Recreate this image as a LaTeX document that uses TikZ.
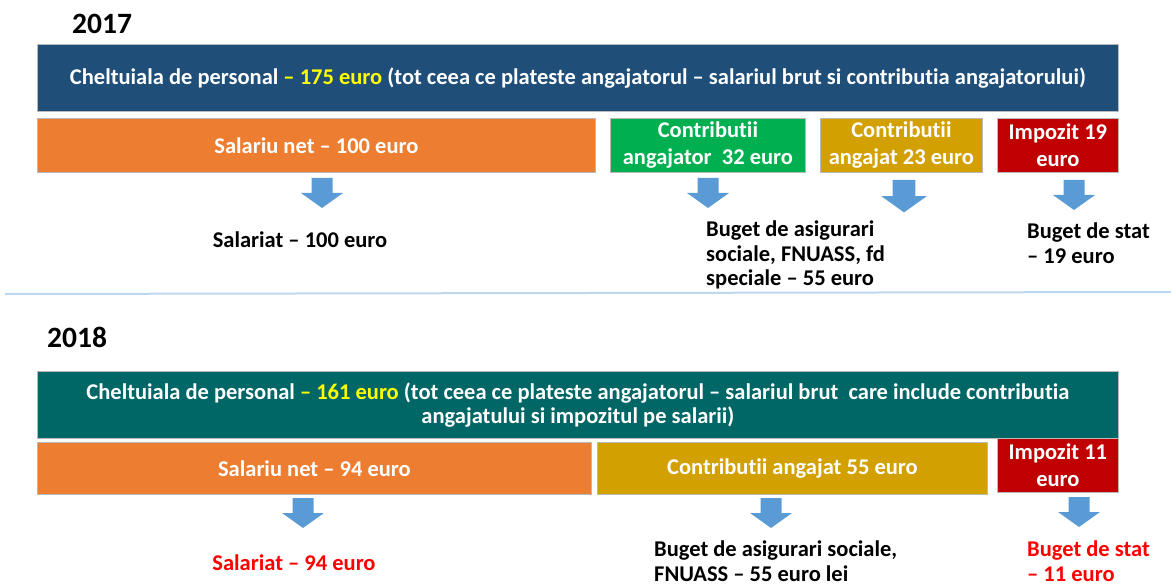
\documentclass[tikz,border=0pt]{standalone}
\usepackage{fontspec}
\setmainfont{Carlito}[Ligatures=NoCommon]
\usepackage{xcolor}
\definecolor{barblue}{HTML}{1F4E79}
\definecolor{barteal}{HTML}{006666}
\definecolor{orng}{HTML}{ED7D31}
\definecolor{grn}{HTML}{00B050}
\definecolor{gld}{HTML}{D2A000}
\definecolor{rd}{HTML}{C00000}
\definecolor{arrowblue}{HTML}{5B9BD5}
\definecolor{sepblue}{HTML}{BDD7EE}
\definecolor{ylw}{HTML}{FFFF00}
\definecolor{txtred}{HTML}{FF0000}
\tikzset{
  box/.style={draw=gray!55, line width=0.8pt, anchor=north west, inner sep=0pt,
    text=white, font=\fontsize{22.5}{27}\selectfont\bfseries, align=center},
  topbox/.style={box, font=\fontsize{22.5}{24.5}\selectfont\bfseries},
  lbl/.style={inner sep=0pt, font=\fontsize{22.5}{24.5}\selectfont\bfseries},
  yearlbl/.style={inner sep=0pt, anchor=west, font=\fontsize{29.5}{34}\selectfont\bfseries},
  downarrow/.pic={\fill[arrowblue] (-10.5,0) -- (10.5,0) -- (10.5,15) -- (21,15) -- (0,30) -- (-21,15) -- (-10.5,15) -- cycle;}
}
\begin{document}
\begin{tikzpicture}[x=1pt,y=-1pt]
\useasboundingbox (0,0) rectangle (1171,585);
% 2017
\node[yearlbl] (y17) at (72,24) {2017};
\node[topbox, fill=barblue, minimum width=1081, minimum height=67] (top17) at (37,44)
  {Cheltuiala de personal {\color{ylw}– 175 euro} (tot ceea ce plateste angajatorul – salariul brut si contributia angajatorului)};
\node[box, fill=orng, minimum width=558, minimum height=54] (net17) at (37,118) {Salariu net – 100 euro};
\node[box, fill=grn, minimum width=195, minimum height=54] (cang17) at (610,118) {Contributii\\angajator\ \ 32 euro};
\node[box, fill=gld, minimum width=162, minimum height=54] (cngt17) at (820,118) {Contributii\\angajat 23 euro};
\node[box, fill=rd, minimum width=121, minimum height=54] (imp17) at (997,118) {Impozit 19\\euro};
\pic at (322,178) {downarrow};
\pic at (708,178) {downarrow};
\pic[scale=1.08] at (904,180) {downarrow};
\pic at (1074,180) {downarrow};
\node[lbl] (sal17) at (300,240) {Salariat – 100 euro};
\node[lbl, anchor=north west, align=left] (bas17) at (706,221) {Buget de asigurari\\sociale, FNUASS, fd\\speciale – 55 euro};
\node[lbl, anchor=north west, align=left] (bst17) at (1027,223) {Buget de stat\\– 19 euro};
% separator
\draw[sepblue, line width=2pt] (5,294) -- (1171,292);
% 2018
\node[yearlbl] (y18) at (47,337) {2018};
\node[topbox, fill=barteal, minimum width=1081, minimum height=67] (top18) at (37,371)
  {Cheltuiala de personal {\color{ylw}– 161 euro} (tot ceea ce plateste angajatorul – salariul brut\ \ care include contributia\\angajatului si impozitul pe salarii)};
\node[box, fill=orng, minimum width=554, minimum height=52] (net18) at (37,442) {Salariu net – 94 euro};
\node[box, fill=gld, minimum width=390, minimum height=52] (cngt18) at (597,442) {Contributii angajat 55 euro};
\node[box, fill=rd, minimum width=121, minimum height=54] (imp18) at (997,438) {Impozit 11\\euro};
\pic at (303,498) {downarrow};
\pic at (771,498) {downarrow};
\pic at (1079,497) {downarrow};
\node[lbl, text=txtred] (sal18) at (294,563) {Salariat – 94 euro};
\node[lbl, anchor=north west, align=left] (bas18) at (654,541) {Buget de asigurari sociale,\\FNUASS – 55 euro lei};
\node[lbl, anchor=north west, align=left, text=txtred] (bst18) at (1027,541) {Buget de stat\\– 11 euro};
\end{tikzpicture}
\end{document}
